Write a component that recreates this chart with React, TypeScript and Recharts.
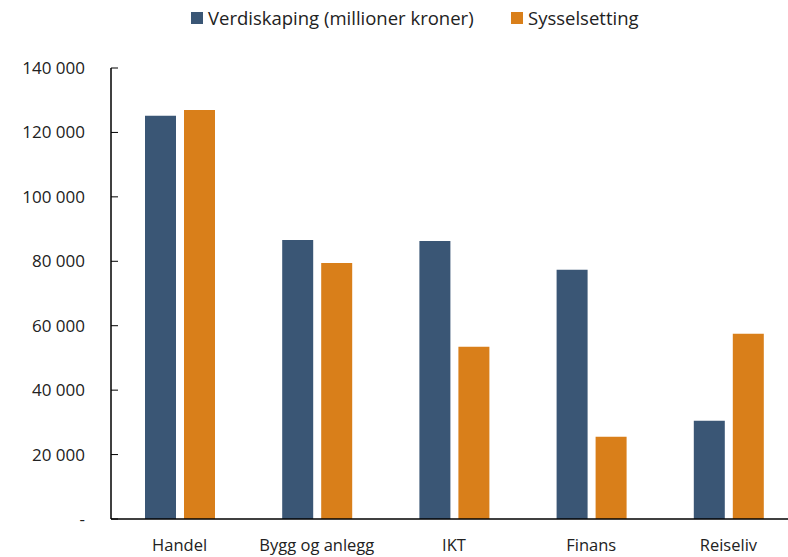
import { BarChart, Bar, XAxis, YAxis } from 'recharts';

const categories = ['Handel', 'Bygg og anlegg', 'IKT', 'Finans', 'Reiseliv'];
const verdiskaping = [125200, 86600, 86300, 77400, 30500];
const sysselsetting = [127000, 79500, 53500, 25500, 57500];
const yTicks = [0, 20000, 40000, 60000, 80000, 100000, 120000, 140000];

const data = categories.map((name, i) => ({
  name,
  verdiskaping: verdiskaping[i],
  sysselsetting: sysselsetting[i],
}));

const BLUE = '#3a5675';
const ORANGE = '#d97f1a';
const FONT = '"Open Sans", "Noto Sans", sans-serif';

const fmt = (v: number) => (v === 0 ? '-' : String(v).replace(/\B(?=(\d{3})+(?!\d))/g, ' '));

function YTick({ x, y, payload }: any) {
  return (
    <g>
      <line x1={x} x2={x + 7} y1={y} y2={y} stroke="#000" strokeWidth={1} />
      <text x={x - 26} y={y} dy={6} textAnchor="end" fontSize={17} fill="#222" fontFamily={FONT}>
        {fmt(payload.value)}
      </text>
    </g>
  );
}

// legend sits above the plot, outside recharts layout
function LegendItem({ left, color, label }: { left: number; color: string; label: string }) {
  return (
    <div style={{ position: 'absolute', left, top: 5, display: 'flex', alignItems: 'center', whiteSpace: 'nowrap' }}>
      <span style={{ width: 12, height: 12, background: color, marginRight: 5, display: 'inline-block' }} />
      <span style={{ fontFamily: FONT, fontSize: 18.5, color: '#222' }}>{label}</span>
    </div>
  );
}

export default function App() {
  return (
    <div style={{ position: 'absolute', left: 0, top: 0, width: 788, height: 557, overflow: 'hidden', background: '#fff' }}>
      <LegendItem left={191} color={BLUE} label="Verdiskaping (millioner kroner)" />
      <LegendItem left={511} color={ORANGE} label="Sysselsetting" />
      <BarChart
        width={797}
        height={557}
        data={data}
        margin={{ top: 68, right: 0, bottom: 0, left: 0 }}
        barSize={31}
        barGap={8}
      >
        <XAxis
          dataKey="name"
          tickLine={false}
          axisLine={{ stroke: '#000', strokeWidth: 1.5 }}
          height={38}
          tickMargin={0}
          tick={{ fontSize: 16.5, fill: '#222', fontFamily: FONT, dy: 14 }}
        />
        <YAxis
          width={111}
          domain={[0, 140000]}
          ticks={yTicks}
          interval={0}
          tickLine={false}
          tickSize={0}
          tickMargin={0}
          axisLine={{ stroke: '#000', strokeWidth: 1.5 }}
          tick={<YTick />}
        />
        <Bar dataKey="verdiskaping" fill={BLUE} isAnimationActive={false} />
        <Bar dataKey="sysselsetting" fill={ORANGE} isAnimationActive={false} />
      </BarChart>
    </div>
  );
}
